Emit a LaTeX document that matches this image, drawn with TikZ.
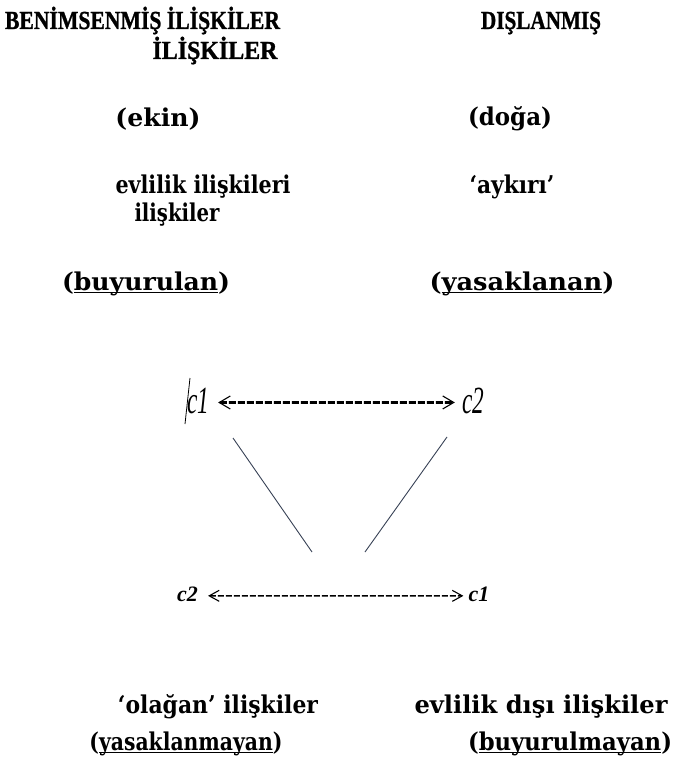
\documentclass[tikz,border=0pt]{standalone}
\usepackage{fontspec}
\usepackage{graphicx}
\setmainfont{DejaVu Serif}
\newfontfamily\cfont{Liberation Serif}
\newfontfamily\capfont{Liberation Serif}[FakeBold=1.2]
\usetikzlibrary{arrows.meta}
\newcommand\myul[1]{\setbox0\hbox{#1}\rlap{\rule[-3.4pt]{\wd0}{1.2pt}}\box0}
\newcommand\fw[2]{\resizebox{#1pt}{\height}{#2}}
\tikzset{
  lbl/.style={anchor=base, inner sep=0pt, font=\fontsize{24.5}{28}\selectfont\bfseries},
  caps/.style={anchor=base, inner sep=0pt, font=\capfont\fontsize{26}{30}\selectfont\bfseries},
  clbl/.style={anchor=base, inner sep=0pt},
  topdash/.style={line width=2.8pt, dash pattern=on 7pt off 2pt,
    {Straight Barb[length=11pt,width=13pt,line width=1.1pt]}-{Straight Barb[length=11pt,width=13pt,line width=1.1pt]}},
  botdash/.style={line width=1.4pt, dash pattern=on 6pt off 2pt,
    {Straight Barb[length=10pt,width=11pt,line width=1.1pt]}-{Straight Barb[length=10pt,width=11pt,line width=1.1pt]}},
  diag/.style={line width=0.9pt, draw={rgb,255:red,55;green,65;blue,85}}
}
\begin{document}
\begin{tikzpicture}[x=1pt,y=-1pt]
\useasboundingbox (0,0) rectangle (676,757);
\node[caps] (h1) at (142.5,29) {\fw{275}{BENİMSENMİŞ İLİŞKİLER}};
\node[caps] (h2) at (541,29) {\fw{120}{DIŞLANMIŞ}};
\node[caps] (h3) at (215,59) {\fw{125}{İLİŞKİLER}};
\node[lbl] (ekin) at (158,126) {\fw{85}{(ekin)}};
\node[lbl] (doga) at (510,126) {\fw{84}{(doğa)}};
\node[lbl] (evl) at (203,193) {\fw{175}{evlilik ilişkileri}};
\node[lbl] (ayk) at (512,193) {\fw{85}{‘aykırı’}};
\node[lbl] (ili) at (177,221) {\fw{85}{ilişkiler}};
\node[lbl] (buy) at (146,290) {\fw{168}{(\myul{buyurulan})}};
\node[lbl] (yas) at (522,290) {\fw{185}{(\myul{yasaklanan})}};
\node[lbl] (ola) at (218,713) {\fw{200}{‘olağan’ ilişkiler}};
\node[lbl] (edi) at (541,713) {\fw{253}{evlilik dışı ilişkiler}};
\node[lbl] (yasm) at (186,750) {\fw{193}{(\myul{yasaklanmayan})}};
\node[lbl] (buym) at (570,750) {\fw{204}{(\myul{buyurulmayan})}};
% top c1 / c2
\node[clbl] (c1t) at (198,413) {\scalebox{1}[1.65]{\cfont\itshape\fontsize{23.3}{26}\selectfont c1}};
\node[clbl] (c2t) at (473,413) {\scalebox{1}[1.65]{\cfont\itshape\fontsize{23.3}{26}\selectfont c2}};
\draw[topdash, shorten <=9pt, shorten >=7pt] ([yshift=-2pt]c1t.east) -- ([yshift=-2pt]c2t.west);
% bottom c2 / c1
\node[clbl] (c2b) at (187.5,601) {\cfont\bfseries\itshape\fontsize{22}{24}\selectfont c2};
\node[clbl] (c1b) at (479,601) {\cfont\bfseries\itshape\fontsize{22}{24}\selectfont c1};
\draw[botdash, shorten <=10pt, shorten >=5pt] ([yshift=-2pt]c2b.east) -- ([yshift=-2pt]c1b.west);
% diagonal strokes
\coordinate (la) at (233,438); \coordinate (lb) at (312,552);
\coordinate (ra) at (447,437); \coordinate (rb) at (365,552);
\draw[diag] (la) -- (lb);
\draw[diag] (ra) -- (rb);
% stray cursor stroke
\coordinate (sa) at (190,378); \coordinate (sb) at (185,424);
\draw[line width=0.8pt] (sa) -- (sb);
\end{tikzpicture}
\end{document}
